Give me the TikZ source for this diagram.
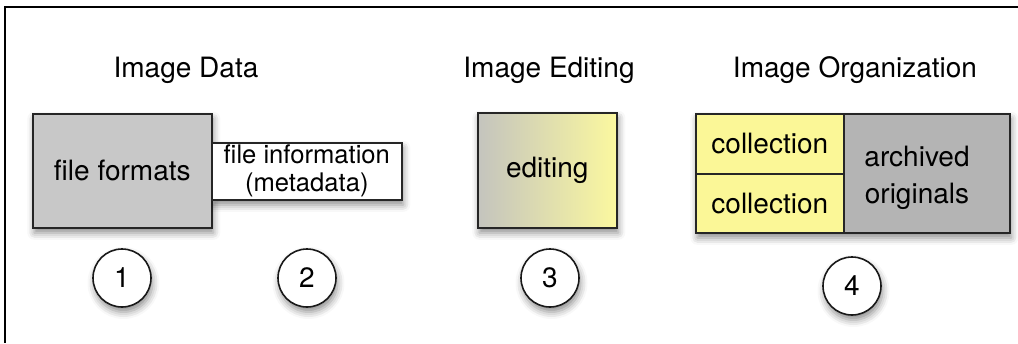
\documentclass[tikz,border=0pt]{standalone}
\usepackage{fontspec}
\setmainfont{TeX Gyre Heros}
\usetikzlibrary{shadows.blur}
\definecolor{boxgray}{HTML}{C8C8C8}
\definecolor{archgray}{HTML}{B4B4B4}
\definecolor{paleyellow}{HTML}{FBF797}
\definecolor{edgray}{HTML}{C4C4BE}
\definecolor{edyellow}{HTML}{FBF89F}
\tikzset{
  x=1pt, y=-1pt,
  every node/.style={font=\fontsize{28}{34}\selectfont, inner sep=0pt},
  frameline/.style={line width=2.4pt, black},
  heading/.style={anchor=base},
  soft/.style={blur shadow={shadow xshift=1.5pt, shadow yshift=-5pt,
      shadow blur radius=7pt, shadow opacity=45}},
  panel/.style={rectangle, draw=black!85, line width=1.6pt, anchor=north west},
  badge/.style={circle, draw=black!90, fill=white, line width=1.6pt,
      minimum size=58pt, soft},
}
\begin{document}
\begin{tikzpicture}
\useasboundingbox (0,0) rectangle (1018,343);

% page frame: top rule and left rule
\draw[frameline] (4,7) -- (1018,7);
\draw[frameline] (5,7) -- (5,343);

% headings
\node[heading] (hdata) at (186,77) {Image Data};
\node[heading] (hedit) at (549,77) {Image Editing};
\node[heading] (horg)  at (855,77) {Image Organization};

% image data
\node[panel, fill=boxgray, soft, minimum width=179pt, minimum height=114pt]
  (fmt) at (32,113) {file formats};
\begin{scope}
  % keep the metadata box's shadow off the format box
  \clip (211,0) rectangle (1018,343);
  \node[panel, fill=white, soft, minimum width=190pt, minimum height=57pt,
    align=center, font=\fontsize{25.6}{28}\selectfont]
    (info) at (211,142) {file information\\(metadata)};
\end{scope}

% image editing
\node[panel, left color=edgray, right color=edyellow, soft,
  minimum width=139pt, minimum height=115pt] (edit) at (477,112) {editing};

% image organization
\node[panel, fill=archgray, soft, minimum width=314pt, minimum height=119pt]
  (org) at (695,113) {};
\node[panel, fill=paleyellow, minimum width=148pt, minimum height=60pt]
  (coll1) at (695,113) {collection};
\node[panel, fill=paleyellow, minimum width=148pt, minimum height=59pt]
  (coll2) at (695,173) {collection};
\node[panel, fill=archgray, minimum width=166pt, minimum height=119pt]
  (arch) at (843,113) {};
\node[align=center, font=\fontsize{28}{37}\selectfont]
  (archtxt) at (917,178) {archived\\originals};

% numbered badges
\node[badge] (n1) at (122,278) {1};
\node[badge] (n2) at (307,278) {2};
\node[badge] (n3) at (550,278) {3};
\node[badge] (n4) at (852,286) {4};
\end{tikzpicture}
\end{document}
